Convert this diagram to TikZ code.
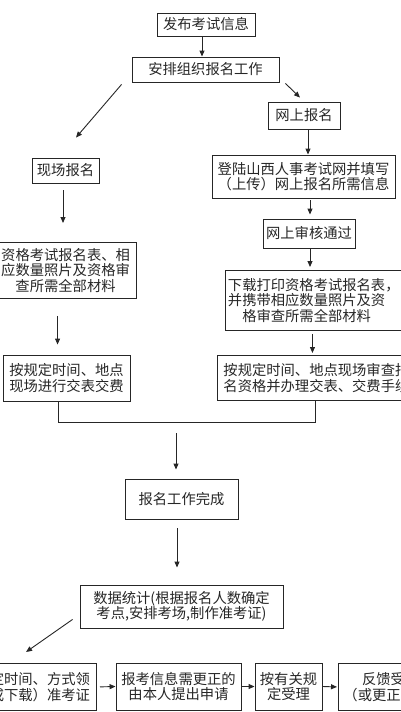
\documentclass[tikz,border=0pt]{standalone}
\usepackage{fontspec}
\setmainfont{Noto Sans CJK SC}
\usetikzlibrary{arrows.meta,calc}
\tikzset{
  box/.style={draw=black!85, line width=0.9pt, inner sep=0pt, align=center,
    font=\fontsize{14.3}{15.5}\selectfont, text=black!85},
  arr/.style={draw=black!85, line width=0.9pt, -{Triangle[length=6pt,width=5pt]}},
  ln/.style={draw=black!85, line width=0.9pt},
}
\begin{document}
\begin{tikzpicture}[x=1pt,y=-1pt]
\useasboundingbox (0,0) rectangle (400,712);
\node[box, minimum width=98, minimum height=23] (n1) at (206,24.5) {发布考试信息};
\node[box, minimum width=147, minimum height=25] (n2) at (205.5,69.5) {安排组织报名工作};
\node[box, minimum width=72, minimum height=27] (n3) at (304,115.5) {网上报名};
\node[box, minimum width=67, minimum height=25] (n4) at (65.5,170.5) {现场报名};
\node[box, minimum width=183, minimum height=43] (n5) at (303.5,176.5) {登陆山西人事考试网并填写\\（上传）网上报名所需信息};
\node[box, minimum width=92, minimum height=29] (n6) at (309,233.5) {网上审核通过};
\node[box, anchor=north east, text width=130pt, inner xsep=6pt, minimum height=56] (n7) at (137,242) {资格考试报名表、相\\应数量照片及资格审\\查所需全部材料};
\node[box, anchor=north west, text width=180pt, inner xsep=2.5pt, minimum height=60, align=left] (n8) at (225,270) {下载打印资格考试报名表，\\并携带相应数量照片及资\\\hspace*{1em}格审查所需全部材料};
\node[box, minimum width=127, minimum height=46] (n9) at (66.5,378) {按规定时间、地点\\现场进行交表交费};
\node[box, anchor=north west, text width=200pt, inner xsep=6pt, minimum height=45, align=left] (n10) at (217,355) {按规定时间、地点现场审查报\\名资格并办理交表、交费手续};
\node[box, minimum width=113, minimum height=40] (n11) at (181.5,499) {报名工作完成};
\node[box, minimum width=203, minimum height=43] (n12) at (181.5,606.5) {数据统计(根据报名人数确定\\考点,安排考场,制作准考证)};
\node[box, anchor=north east, text width=130pt, inner xsep=6pt, minimum height=47] (a) at (97,663) {按规定时间、方式领\\取（或下载）准考证};
\node[box, minimum width=125, minimum height=47] (b) at (178.5,686.5) {报考信息需更正的\\由本人提出申请};
\node[box, minimum width=67, minimum height=47] (c) at (288.5,686.5) {按有关规\\定受理};
\node[box, anchor=north west, text width=110pt, inner xsep=5pt, minimum height=47, align=left] (d) at (338,663) {\hspace*{1.3em}反馈受理结果\\（或更正）};

\draw[arr] ([xshift=-4pt]n1.south) -- ([xshift=-4pt]n1.south |- n2.north);
\draw[arr] ($(n2.south west)+(-10,2)$) -- ($(n4.north)+(10.5,-20)$);
\draw[arr] ($(n2.south east)+(6,1)$) -- ($(n3.north)+(-4,-4)$);
\draw[arr] ([xshift=4pt]n3.south) -- ([xshift=4pt]n3.south |- n5.north);
\draw[arr, shorten <=7pt, shorten >=19pt] ([xshift=-2.5pt]n4.south) -- ([xshift=-2.5pt]n4.south |- n7.north);
\draw[arr, shorten <=2pt, shorten >=4pt] ([xshift=6.5pt]n5.south) -- ([xshift=6.5pt]n5.south |- n6.north);
\draw[arr, shorten >=3pt] ([xshift=1pt]n6.south) -- ([xshift=1pt]n6.south |- n8.north);
\draw[arr, shorten <=17pt, shorten >=10pt] ([xshift=-8pt]n7.south) -- ([xshift=-8pt]n7.south |- n9.north);
\draw[arr, shorten <=3pt, shorten >=2pt] ([xshift=-5.5pt]n8.south) -- ([xshift=-5.5pt]n8.south |- n10.north);
\draw[ln] ([xshift=-8.5pt]n9.south) -- ++(0,21) -| ([xshift=-8pt]n10.south);
\coordinate (j) at (176,433);
\draw[arr, shorten >=9pt] (j) -- (j |- n11.north);
\draw[arr, shorten <=9pt, shorten >=17pt] ([xshift=-4.5pt]n11.south) -- ([xshift=-4.5pt]n11.south |- n12.north);
\draw[arr] ($(n12.south west)+(-7,-9)$) -- ($(a.north)+(0.5,-11)$);
\draw[arr, shorten <=3pt] (a.east) -- (b.west);
\draw[arr] (b.east) -- (c.west);
\draw[arr, shorten >=1pt] (c.east) -- (d.west);
\end{tikzpicture}
\end{document}
